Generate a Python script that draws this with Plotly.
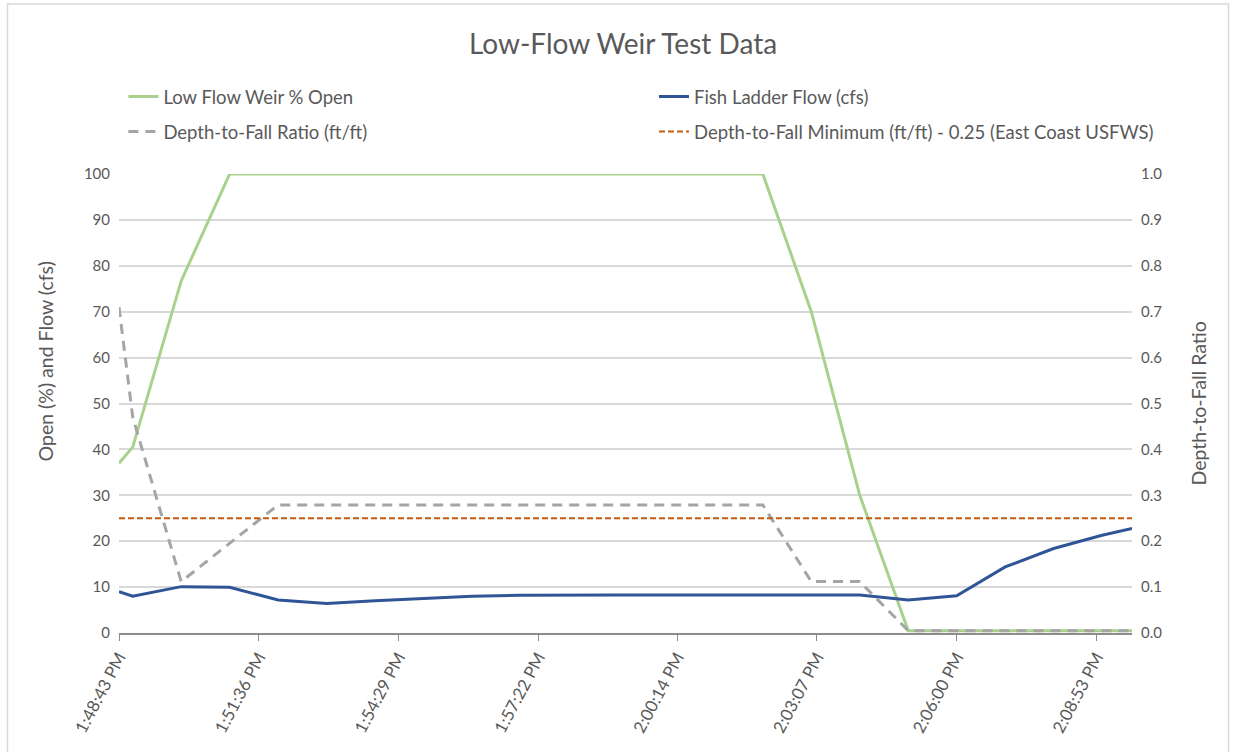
import pandas as pd
import plotly.graph_objects as go

# Sample times (one reading per minute, plus the first and last logged readings)
times = ["13:48:43", "13:49:00", "13:50:00", "13:51:00", "13:52:00", "13:53:00",
         "13:54:00", "13:55:00", "13:56:00", "13:57:00", "13:58:00", "13:59:00",
         "14:00:00", "14:01:00", "14:02:00", "14:03:00", "14:04:00", "14:05:00",
         "14:06:00", "14:07:00", "14:08:00", "14:09:00", "14:09:37"]

# Low flow weir opening (%)
weir_open = [37.0, 40.5, 76.7, 100, 100, 100, 100, 100, 100, 100, 100, 100,
             100, 100, 100, 70.0, 30.0, 0.5, 0.5, 0.5, 0.5, 0.5, 0.5]

# Fish ladder flow (cfs)
ladder_flow = [9.0, 8.0, 10.1, 9.95, 7.2, 6.45, 7.0, 7.5, 8.0, 8.2, 8.3, 8.3,
               8.3, 8.3, 8.3, 8.3, 8.3, 7.2, 8.1, 14.4, 18.4, 21.3, 22.8]

# Depth-to-fall ratio (ft/ft)
depth_fall = [0.71, 0.47, 0.112, 0.195, 0.279, 0.279, 0.279, 0.279, 0.279, 0.279,
              0.279, 0.279, 0.279, 0.279, 0.279, 0.112, 0.112, 0.005, 0.005, 0.005,
              0.005, 0.005, 0.005]

# Depth-to-fall minimum criterion (ft/ft)
min_times = ["13:48:43", "14:09:37"]
depth_fall_min = [0.25, 0.25]

tick_labels = ["1:48:43 PM", "1:51:36 PM", "1:54:29 PM", "1:57:22 PM",
               "2:00:14 PM", "2:03:07 PM", "2:06:00 PM", "2:08:53 PM"]

day = "2021-06-15 "
x = pd.to_datetime([day + t for t in times])
x_min = pd.to_datetime([day + t for t in min_times])
tick_vals = [pd.to_datetime(day + t, format="%Y-%m-%d %I:%M:%S %p") for t in tick_labels]

FONT = "Lato"
TXT = "#595959"

fig = go.Figure()

fig.add_trace(go.Scatter(x=x, y=weir_open, mode="lines", name="Low Flow Weir % Open",
                         line=dict(color="#a9d18e", width=3), legend="legend"))
fig.add_trace(go.Scatter(x=x, y=ladder_flow, mode="lines", name="Fish Ladder Flow (cfs)",
                         line=dict(color="#2f5597", width=3), legend="legend2"))
fig.add_trace(go.Scatter(x=x, y=depth_fall, mode="lines", name="Depth-to-Fall Ratio (ft/ft)",
                         line=dict(color="#a5a5a5", width=3, dash="10px,7px"),
                         yaxis="y2", legend="legend3"))
fig.add_trace(go.Scatter(x=x_min, y=depth_fall_min, mode="lines",
                         name="Depth-to-Fall Minimum (ft/ft) - 0.25 (East Coast USFWS)",
                         line=dict(color="#c55a11", width=2, dash="6px,3px"),
                         yaxis="y2", legend="legend4"))

# plot area geometry (pixels)
L, R, T, B = 118.6, 1132.4, 174, 633
W, H = 1236, 752
PW, PH = R - L, B - T


def px_x(p):
    return (p - L) / PW


def px_y(p):
    return (B - p) / PH


leg_common = dict(orientation="h", xanchor="left", yanchor="middle",
                  font=dict(family=FONT, size=18.5, color=TXT),
                  bgcolor="rgba(0,0,0,0)", borderwidth=0)

axis_title_font = dict(family=FONT, size=19.5, color=TXT)

fig.update_layout(
    width=W, height=H,
    margin=dict(l=L, r=W - R, t=T, b=H - B),
    paper_bgcolor="white", plot_bgcolor="white",
    font=dict(family=FONT, color=TXT),
    showlegend=True,
    title=dict(text="Low-Flow Weir Test Data", x=623 / W, xanchor="center",
               y=1 - 44 / H, yanchor="middle", xref="container", yref="container",
               font=dict(family=FONT, size=28, color=TXT)),
    legend=dict(x=px_x(123), y=px_y(97), **leg_common),
    legend2=dict(x=px_x(654), y=px_y(97), **leg_common),
    legend3=dict(x=px_x(123), y=px_y(132), **leg_common),
    legend4=dict(x=px_x(654), y=px_y(132), **leg_common),
    xaxis=dict(type="date", range=[x[0], x[-1]], tickvals=tick_vals, ticktext=tick_labels,
               tickangle=-62, ticks="outside", ticklen=6, tickcolor="#8c8c8c",
               showline=True, linecolor="#8c8c8c", linewidth=1.5, showgrid=False,
               zeroline=False, tickfont=dict(family=FONT, size=17, color=TXT)),
    yaxis=dict(range=[0, 100], dtick=10, showgrid=True, gridcolor="#d9d9d9", gridwidth=1.5,
               zeroline=False, showline=False, ticks="", ticklabelstandoff=8,
               tickfont=dict(family=FONT, size=15, color=TXT)),
    yaxis2=dict(range=[0, 1], dtick=0.1, tickformat=".1f", overlaying="y", side="right",
                showgrid=False, zeroline=False, showline=False, ticks="", ticklabelstandoff=8,
                tickfont=dict(family=FONT, size=15, color=TXT)),
    annotations=[
        dict(text="Open (%) and Flow (cfs)", xref="paper", yref="paper",
             x=px_x(45), y=px_y(361), xanchor="center", yanchor="middle",
             textangle=-90, showarrow=False, font=axis_title_font),
        dict(text="Depth-to-Fall Ratio", xref="paper", yref="paper",
             x=px_x(1198), y=px_y(404), xanchor="center", yanchor="middle",
             textangle=-90, showarrow=False, font=axis_title_font),
    ],
    shapes=[dict(type="rect", xref="paper", yref="paper", layer="below",
                 x0=px_x(7), x1=px_x(1229), y0=px_y(770), y1=px_y(4),
                 line=dict(color="#d9d9d9", width=1.5), fillcolor="rgba(0,0,0,0)")],
)

fig.write_html("out.html")
